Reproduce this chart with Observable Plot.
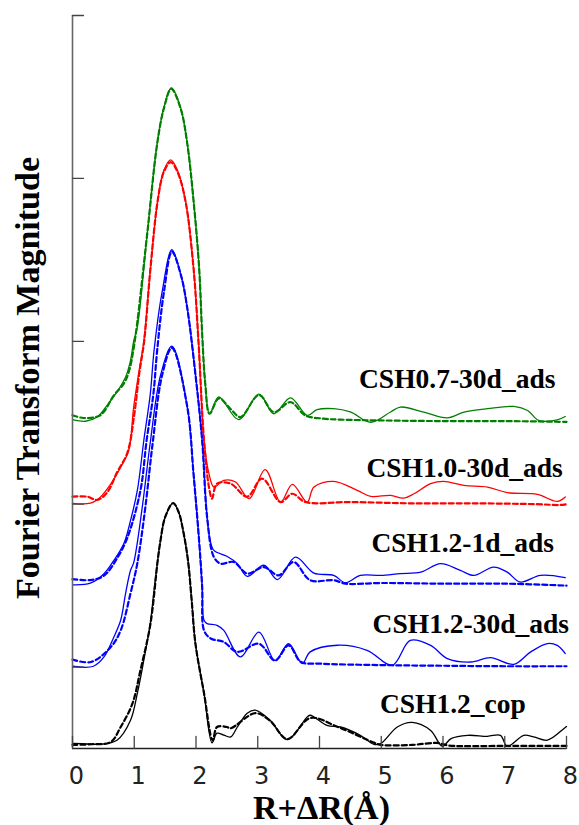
<!DOCTYPE html>
<html>
<head>
<meta charset="utf-8">
<script src="https://cdn.jsdelivr.net/npm/d3@7"></script>
<script src="https://cdn.jsdelivr.net/npm/@observablehq/plot@0.6"></script>
<style>
  html, body { margin: 0; padding: 0; background: #fff; }
  #chart { width: 579px; height: 825px; }
</style>
</head>
<body>
<div id="chart"></div>
<script>
// ---- data (x = R+ΔR in Å, y = FT magnitude, stacked with offsets, arbitrary units) ----
const xTicks = [0, 1, 2, 3, 4, 5, 6, 7, 8];
const yTicks = [0, 1, 2, 3, 4];

const cop_exp = [[0,-0.469],[0.15,-0.470],[0.45,-0.474],[0.72,-0.449],[0.94,-0.326],[1.05,-0.161],[1.155,0.042],[1.26,0.269],[1.32,0.47],[1.38,0.655],[1.425,0.777],[1.5,0.92],[1.63,1.007],[1.72,0.95],[1.80,0.821],[1.87,0.655],[1.93,0.41],[1.99,0.146],[2.13,-0.161],[2.26,-0.465],[2.34,-0.406],[2.45,-0.418],[2.56,-0.429],[2.67,-0.368],[2.83,-0.284],[2.96,-0.265],[3.2,-0.327],[3.48,-0.445],[3.80,-0.307],[3.85,-0.296],[4.12,-0.358],[4.34,-0.368],[4.66,-0.419],[4.88,-0.474],[4.99,-0.470],[5.26,-0.368],[5.5,-0.34],[5.80,-0.389],[5.99,-0.486],[6.13,-0.439],[6.40,-0.419],[6.72,-0.425],[6.93,-0.419],[7.04,-0.486],[7.31,-0.419],[7.47,-0.429],[7.69,-0.449],[7.96,-0.377],[8.0,-0.365]];
const cop_fit = [[0,-0.478],[0.3,-0.474],[0.62,-0.460],[0.78,-0.368],[0.97,-0.225],[1.10,-0.020],[1.26,0.26],[1.38,0.655],[1.425,0.777],[1.5,0.92],[1.63,1.007],[1.72,0.95],[1.80,0.821],[1.87,0.655],[1.93,0.41],[1.99,0.146],[2.13,-0.161],[2.27,-0.45],[2.34,-0.368],[2.5,-0.368],[2.56,-0.376],[2.96,-0.283],[3.2,-0.33],[3.48,-0.442],[3.85,-0.313],[4.3,-0.368],[4.88,-0.464],[5.0,-0.478],[5.5,-0.478],[5.9,-0.466],[6.1,-0.482],[7.0,-0.484],[8.0,-0.484]];

const s30_exp = [[0,0.005],[0.34,0.005],[0.51,0.062],[0.67,0.185],[0.78,0.287],[0.86,0.453],[0.94,0.594],[0.99,0.64],[1.13,0.982],[1.26,1.38],[1.425,1.79],[1.61,1.97],[1.86,1.594],[1.96,1.186],[2.05,0.777],[2.10,0.491],[2.13,0.287],[2.18,0.267],[2.34,0.256],[2.45,0.225],[2.72,0.062],[3.02,0.215],[3.28,0.04],[3.50,0.143],[3.72,0.021],[3.85,0.093],[4.29,0.134],[4.77,0.103],[5.18,0.012],[5.47,0.164],[5.80,0.133],[6.07,0.052],[6.45,0.031],[6.77,0.058],[7.15,0.017],[7.42,0.093],[7.69,0.144],[7.85,0.133],[7.98,0.083]];
const s30_fit = [[0,0.046],[0.3,0.031],[0.62,0.123],[0.78,0.225],[0.94,0.453],[1.05,0.637],[1.18,0.982],[1.30,1.38],[1.45,1.79],[1.61,1.96],[1.86,1.594],[1.96,1.186],[2.05,0.777],[2.10,0.491],[2.13,0.225],[2.24,0.175],[2.45,0.154],[2.67,0.093],[3.02,0.143],[3.28,0.04],[3.50,0.133],[3.70,0.031],[4.0,0.021],[5.0,0.012],[6.0,0.008],[7.0,0.005],[8.0,0.005]];

const s1d_exp = [[0,0.505],[0.29,0.515],[0.51,0.573],[0.67,0.655],[0.83,0.757],[0.94,0.900],[1.05,1.084],[1.155,1.391],[1.26,1.677],[1.32,1.94],[1.45,2.3],[1.61,2.562],[1.76,2.4],[1.86,2.2],[1.99,1.80],[2.10,1.39],[2.18,0.92],[2.23,0.777],[2.29,0.716],[2.50,0.680],[2.67,0.635],[2.83,0.557],[3.10,0.625],[3.32,0.537],[3.61,0.675],[3.91,0.577],[4.23,0.563],[4.42,0.518],[4.66,0.563],[4.99,0.563],[5.31,0.574],[5.64,0.583],[5.96,0.635],[6.28,0.594],[6.50,0.563],[6.82,0.614],[7.04,0.583],[7.25,0.522],[7.58,0.563],[7.98,0.549]];
const s1d_fit = [[0,0.540],[0.29,0.534],[0.51,0.561],[0.73,0.673],[0.89,0.796],[1.10,1.084],[1.20,1.391],[1.31,1.677],[1.37,1.94],[1.48,2.3],[1.61,2.55],[1.76,2.4],[1.86,2.2],[1.99,1.80],[2.10,1.39],[2.18,0.92],[2.29,0.675],[2.40,0.635],[2.61,0.645],[2.83,0.574],[3.10,0.614],[3.34,0.563],[3.58,0.645],[3.85,0.533],[4.23,0.533],[4.42,0.512],[5.0,0.516],[6.0,0.512],[7.0,0.512],[8.0,0.50]];

const s10_exp = [[0,1.005],[0.29,1.006],[0.45,1.043],[0.62,1.124],[0.78,1.227],[0.91,1.329],[0.99,1.595],[1.07,1.80],[1.155,2.0],[1.26,2.437],[1.38,2.864],[1.48,3.05],[1.59,3.114],[1.70,3.05],[1.83,2.86],[1.96,2.45],[2.04,2.0],[2.13,1.39],[2.21,1.187],[2.29,1.105],[2.45,1.146],[2.64,1.136],[2.86,1.034],[3.12,1.212],[3.37,1.013],[3.56,1.121],[3.80,1.013],[3.91,1.105],[4.23,1.14],[4.61,1.085],[4.83,1.048],[5.15,1.054],[5.36,1.037],[5.53,1.064],[5.80,1.126],[6.01,1.14],[6.34,1.115],[6.72,1.105],[7.04,1.071],[7.53,1.06],[7.85,1.017],[7.98,1.044]];
const s10_fit = [[0,1.046],[0.24,1.046],[0.40,1.026],[0.56,1.071],[0.72,1.194],[0.89,1.317],[1.0,1.55],[1.08,1.80],[1.16,2.0],[1.26,2.437],[1.38,2.864],[1.48,3.04],[1.59,3.10],[1.70,3.04],[1.83,2.86],[1.96,2.45],[2.04,2.0],[2.13,1.39],[2.21,1.105],[2.26,1.034],[2.34,1.126],[2.56,1.126],[2.83,1.046],[3.07,1.157],[3.37,1.013],[3.56,1.064],[3.77,1.013],[4.5,1.013],[5.5,1.005],[6.5,1.005],[7.5,1.0],[7.9,0.995],[8.0,1.0]];

const s07_exp = [[0,1.519],[0.21,1.509],[0.40,1.535],[0.56,1.607],[0.72,1.689],[0.86,1.781],[0.94,1.883],[0.99,2.0],[1.05,2.087],[1.21,2.66],[1.37,3.21],[1.48,3.436],[1.60,3.555],[1.75,3.436],[1.86,3.21],[1.96,2.864],[2.05,2.455],[2.10,2.045],[2.15,1.739],[2.22,1.555],[2.37,1.658],[2.69,1.519],[3.02,1.675],[3.26,1.555],[3.53,1.653],[3.80,1.545],[3.96,1.58],[4.23,1.586],[4.50,1.566],[4.83,1.503],[5.15,1.566],[5.31,1.596],[5.69,1.565],[6.07,1.53],[6.34,1.565],[6.72,1.586],[7.15,1.60],[7.37,1.575],[7.55,1.514],[7.85,1.518],[7.98,1.538]];
const s07_fit = [[0,1.546],[0.18,1.529],[0.45,1.546],[0.67,1.668],[0.83,1.74],[0.91,1.81],[1.0,1.98],[1.21,2.66],[1.37,3.21],[1.48,3.43],[1.60,3.55],[1.75,3.43],[1.86,3.21],[1.96,2.864],[2.05,2.455],[2.10,2.045],[2.15,1.739],[2.22,1.555],[2.37,1.65],[2.56,1.584],[2.72,1.535],[3.02,1.67],[3.26,1.565],[3.53,1.626],[3.77,1.545],[4.07,1.525],[4.34,1.519],[5.0,1.514],[6.0,1.51],[7.0,1.51],[8.0,1.505]];

const sampleNames = ["CSH0.7-30d_ads", "CSH1.0-30d_ads", "CSH1.2-1d_ads", "CSH1.2-30d_ads", "CSH1.2_cop"];
const sampleColors = ["#008000", "#ff0000", "#0000ff", "#0000ff", "#000000"];
const labelX = [6.23, 6.35, 6.32, 6.45, 6.16];
const labelY = [1.766, 1.223, 0.760, 0.263, -0.228];

// ---- build ----
const expSeries = [s07_exp, s10_exp, s1d_exp, s30_exp, cop_exp];
const fitSeries = [s07_fit, s10_fit, s1d_fit, s30_fit, cop_fit];
const toRows = (arr, i) => arr.map(([x, y]) => ({x, y, sample: sampleNames[i]}));
const expRows = expSeries.flatMap(toRows);
const fitRows = fitSeries.flatMap(toRows);
const labels = sampleNames.map((name, i) => ({name, x: labelX[i], y: labelY[i]}));
const colorOf = Object.fromEntries(sampleNames.map((n, i) => [n, sampleColors[i]]));

const tickShape = {draw(context, l) { context.moveTo(0, 0); context.lineTo(0, -l); }};
const yMin = -0.5;

const chart = Plot.plot({
  width: 579,
  height: 825,
  marginLeft: 72,
  marginRight: 13,
  marginTop: 15,
  marginBottom: 77,
  style: {background: "#fff", overflow: "visible"},
  x: {domain: [0, 8], ticks: xTicks},
  y: {domain: [yMin, 4], axis: null},
  marks: [
    Plot.axisX(xTicks, {tickSize: 0, tickPadding: 18, dx: 4, fontSize: 24, fontFamily: "DejaVu Sans", fill: "#222", label: null}),
    Plot.line(fitRows, {x: "x", y: "y", z: "sample", stroke: d => colorOf[d.sample], strokeWidth: 2.2, strokeDasharray: "5,3", curve: "catmull-rom"}),
    Plot.line(expRows, {x: "x", y: "y", z: "sample", stroke: d => colorOf[d.sample], strokeWidth: 1.3, curve: "catmull-rom"}),
    Plot.ruleX([0], {stroke: "#666", strokeWidth: 1.6}),
    Plot.ruleY([yMin], {stroke: "#222", strokeWidth: 1.6}),
    Plot.vector(xTicks, {x: d => d, y: yMin, length: 12, rotate: 0, anchor: "start", shape: tickShape, stroke: "#444", strokeWidth: 1.3}),
    Plot.vector(yTicks, {x: 0, y: d => d, length: 11, rotate: 90, anchor: "start", shape: tickShape, stroke: "#444", strokeWidth: 1.3}),
    Plot.text(labels, {x: "x", y: "y", text: "name", fontSize: 27.5, fontWeight: "bold", fontFamily: "Liberation Serif", fill: "#000", textAnchor: "middle", lineAnchor: "middle"}),
    Plot.text(["Fourier Transform Magnitude"], {frameAnchor: "left", rotate: -90, dx: -44, dy: -4, fontSize: 34, fontWeight: "bold", fontFamily: "Liberation Serif", fill: "#000", lineAnchor: "middle", textAnchor: "middle"}),
    Plot.text(["R+ΔR(Å)"], {frameAnchor: "bottom", dy: 60, dx: 2, fontSize: 34, fontWeight: "bold", fontFamily: "Liberation Serif", fill: "#000", lineAnchor: "middle", textAnchor: "middle"})
  ]
});
document.getElementById("chart").appendChild(chart);
</script>
</body>
</html>
